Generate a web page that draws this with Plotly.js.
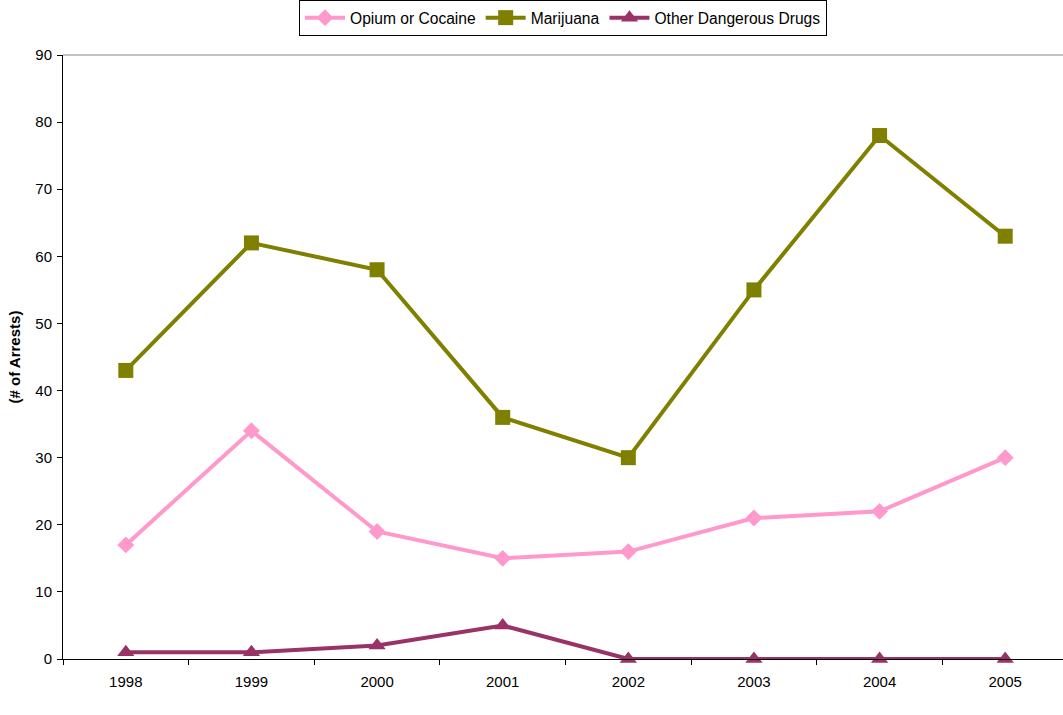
<!DOCTYPE html>
<html>
<head>
<meta charset="utf-8">
<script src="https://cdn.plot.ly/plotly-3.0.1.min.js"></script>
<style>html,body{margin:0;padding:0;background:#fff;overflow:hidden}</style>
</head>
<body>
<div id="chart" style="width:1063px;height:715px"></div>
<script>
const years = ["1998","1999","2000","2001","2002","2003","2004","2005"];
const opiumCocaine = [17, 34, 19, 15, 16, 21, 22, 30];
const marijuana = [43, 62, 58, 36, 30, 55, 78, 63];
const otherDangerous = [1, 1, 2, 5, 0, 0, 0, 0];
const yTicks = [0,10,20,30,40,50,60,70,80,90];

const font = "Liberation Sans, Arial, sans-serif";
const traces = [
  {x: years, y: opiumCocaine, name: "Opium or Cocaine", type: "scatter", mode: "lines+markers",
   line: {color: "#FF99CC", width: 4}, marker: {symbol: "diamond", size: 13, color: "#FF99CC"}, cliponaxis: false},
  {x: years, y: marijuana, name: "Marijuana", type: "scatter", mode: "lines+markers",
   line: {color: "#808000", width: 4}, marker: {symbol: "square", size: 15, color: "#808000"}, cliponaxis: false},
  {x: years, y: otherDangerous, name: "Other Dangerous Drugs", type: "scatter", mode: "lines+markers",
   line: {color: "#993366", width: 4}, marker: {symbol: "triangle-up", size: 15, color: "#993366"}, cliponaxis: false}
];
const layout = {
  width: 1063, height: 715,
  margin: {l: 63, r: 0, t: 55, b: 56},
  paper_bgcolor: "#fff", plot_bgcolor: "#fff",
  font: {family: font, size: 15, color: "#000"},
  showlegend: true,
  legend: {orientation: "h", x: 0.5, xref: "paper", xanchor: "center", y: 1, yref: "container", yanchor: "top",
    bordercolor: "#000", borderwidth: 1, font: {family: font, size: 15.6}, itemwidth: 40, tracegroupgap: 0},
  xaxis: {type: "category", range: [-0.5, 7.46], tickson: "boundaries", ticks: "outside", ticklen: 5,
    tickcolor: "#000", showline: true, linecolor: "#000", linewidth: 1, showgrid: false, zeroline: false,
    tickfont: {family: font, size: 15}, ticklabelstandoff: 9, fixedrange: true},
  yaxis: {range: [0, 90], tickvals: yTicks, ticks: "outside", ticklen: 5, tickcolor: "#000",
    showline: true, linecolor: "#000", linewidth: 1, showgrid: false, zeroline: false,
    tickfont: {family: font, size: 15}, ticklabelstandoff: 2,
    title: {text: "<b>(# of Arrests)</b>", font: {family: font, size: 15}, standoff: 11}},
  shapes: [{type: "line", xref: "paper", yref: "paper", x0: 0, x1: 1, y0: 1, y1: 1,
    line: {color: "#888", width: 1}}]
};
Plotly.newPlot("chart", traces, layout, {staticPlot: true});
</script>
</body>
</html>
